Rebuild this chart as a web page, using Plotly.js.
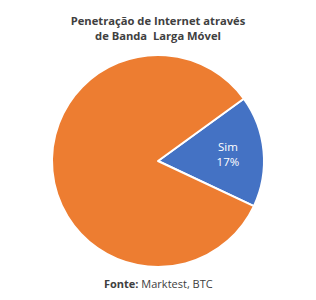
<!DOCTYPE html>
<html>
<head>
<meta charset="utf-8">
<script src="https://cdn.plot.ly/plotly-3.0.1.min.js"></script>
<style>html,body{margin:0;padding:0;background:#fff;}#chart{width:316px;height:300px;}</style>
</head>
<body>
<div id="chart"></div>
<script>
const categories = ["Sim", "Não"];
const values = [17, 83];
const sliceLabels = ["Sim<br>17%", ""];
const colors = ["#4472C4", "#ED7D31"];

const trace = {
  type: "pie",
  labels: categories,
  values: values,
  text: sliceLabels,
  textinfo: "text",
  textposition: "inside",
  insidetextorientation: "horizontal",
  textfont: {family: "Open Sans, sans-serif", size: 11.5, color: "#ffffff"},
  marker: {colors: colors, line: {color: "#ffffff", width: 2}},
  sort: false,
  direction: "clockwise",
  rotation: 54,
  hoverinfo: "none",
  domain: {x: [52/316, 264/316], y: [1 - 267/300, 1 - 55/300]}
};

const layout = {
  width: 316, height: 300,
  margin: {l: 0, r: 0, t: 0, b: 0},
  paper_bgcolor: "#ffffff",
  showlegend: false,
  title: {
    text: "<b>Penetração de Internet através<br>de Banda  Larga Móvel</b>",
    font: {family: "Open Sans, sans-serif", size: 11.2, color: "#404040"},
    x: 0.5, xanchor: "center", y: 1 - 25/300, yanchor: "middle"
  },
  annotations: [{
    text: "<b>Fonte:</b> Marktest, BTC",
    xref: "paper", yref: "paper", x: 0.5, y: 1 - 283/300,
    xanchor: "center", yanchor: "middle", showarrow: false,
    font: {family: "Open Sans, sans-serif", size: 11, color: "#404040"}
  }]
};

Plotly.newPlot("chart", [trace], layout, {displayModeBar: false, staticPlot: true});
</script>
</body>
</html>
